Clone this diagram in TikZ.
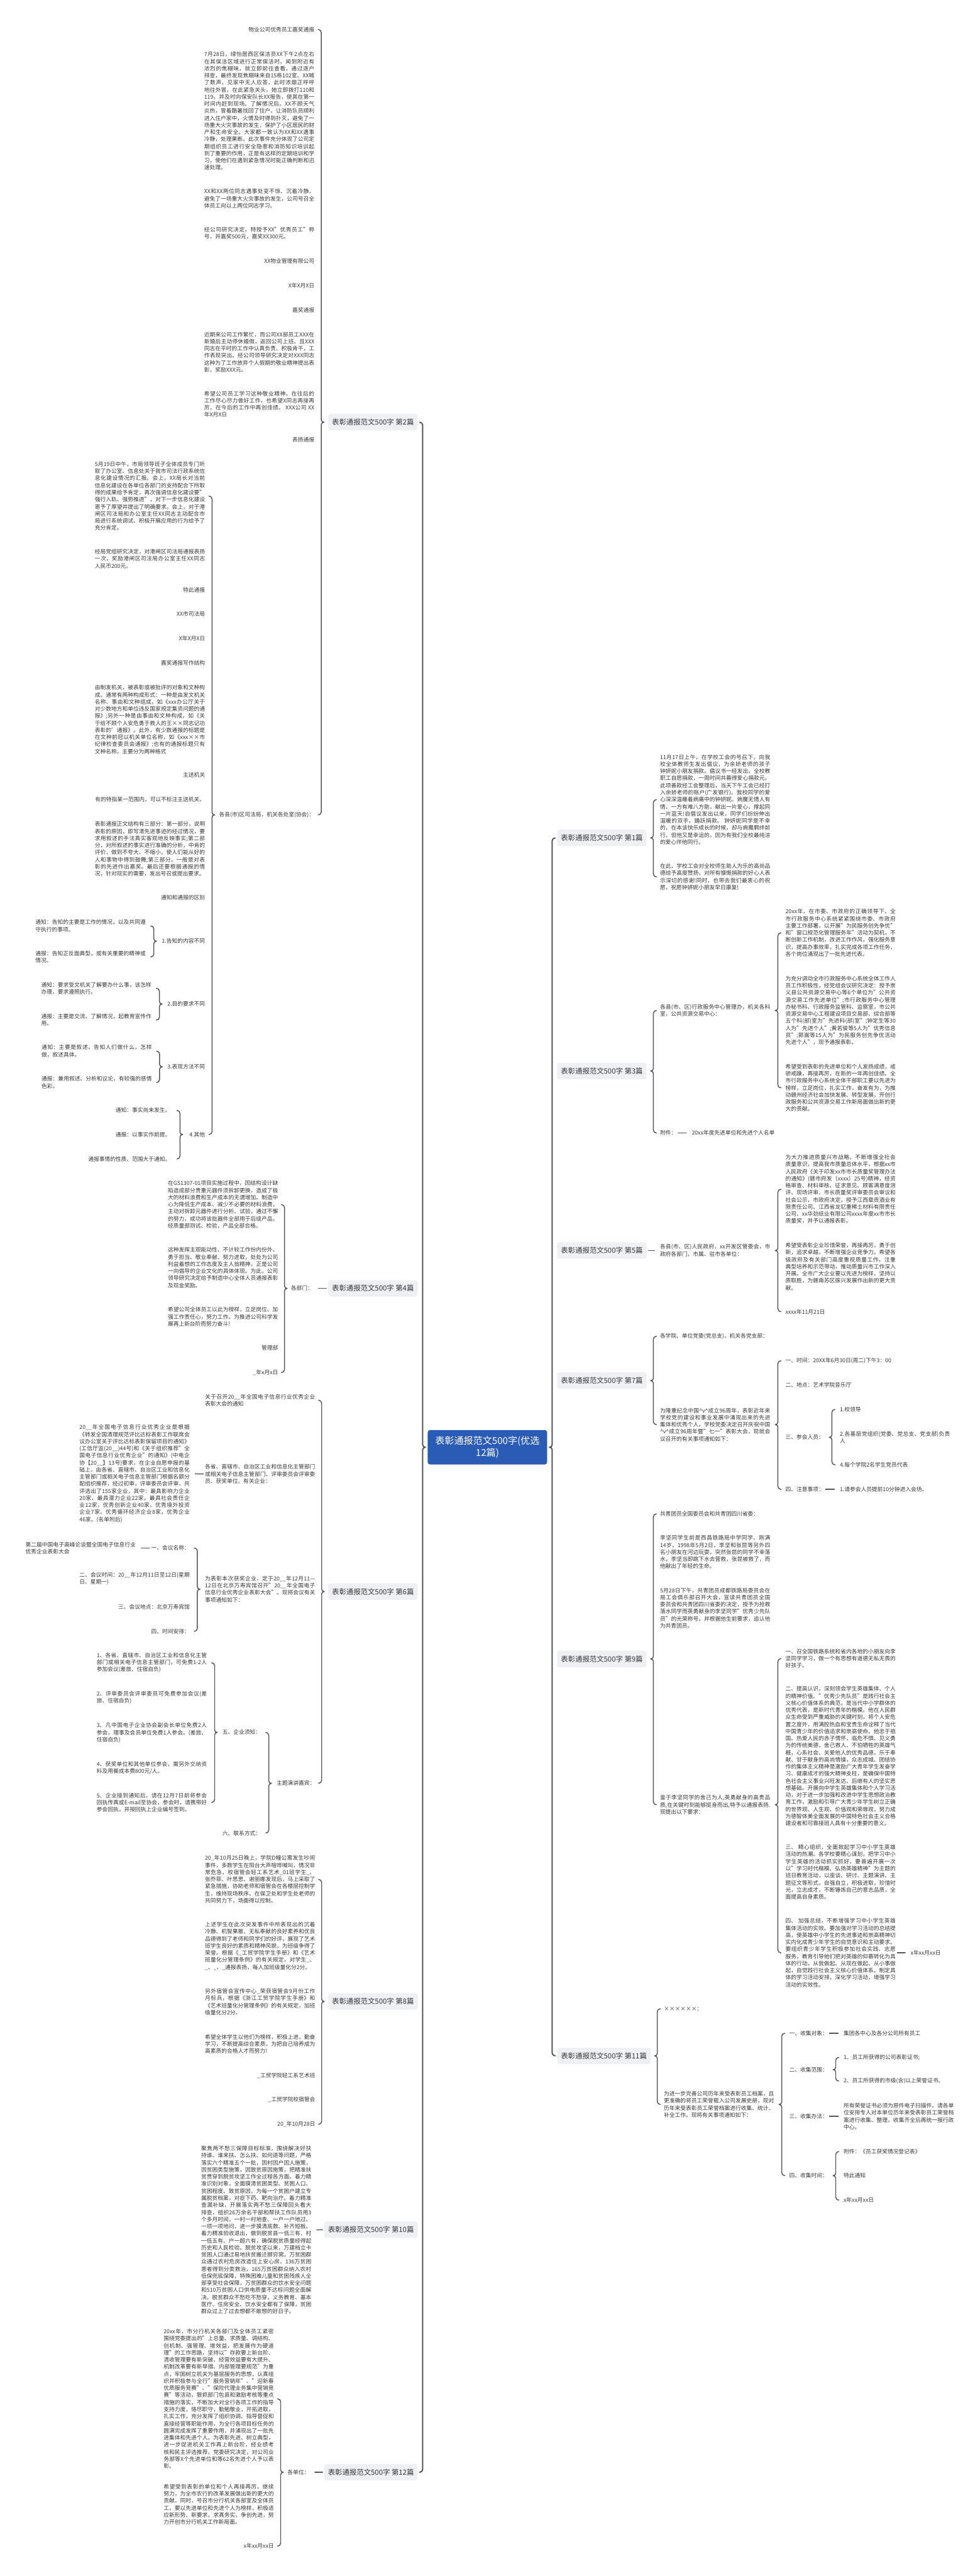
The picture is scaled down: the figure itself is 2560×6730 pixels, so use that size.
\documentclass[tikz,border=0pt]{standalone}
\usepackage{fontspec}
\setmainfont{Noto Sans CJK SC}
\usetikzlibrary{calc}
\XeTeXlinebreaklocale "zh"
\XeTeXlinebreakskip=0pt plus 1pt
\tolerance=9999
\emergencystretch=2em

\definecolor{ink}{HTML}{363636}
\definecolor{linkc}{HTML}{555555}
\definecolor{labbg}{HTML}{EEF0F4}
\definecolor{rootbg}{HTML}{2B5CB5}

\newcommand\mmtext{\fontsize{14.35}{18.5}\selectfont}
\newcommand\mmlabel{\fontsize{18.7}{22}\selectfont}
\newcommand\mmroot{\fontsize{24.8}{31}\selectfont}

\tikzset{
  txt/.style={font=\mmtext, text=ink, inner sep=0pt},
  blk/.style={txt, text width=288pt, align=justify},
  txl/.style={txt, anchor=east},
  txr/.style={txt, anchor=west},
  bkl/.style={blk, anchor=east},
  bkr/.style={blk, anchor=west},
  lab/.style={font=\mmlabel, text=ink, fill=labbg, rounded corners=6pt, inner xsep=10pt, inner ysep=0pt, minimum height=43pt},
  rootn/.style={font=\mmroot, text=white, fill=rootbg, rounded corners=6pt, align=center, minimum width=312pt, minimum height=90pt, inner sep=0pt},
  link/.style={draw=linkc, line width=2.4pt, line cap=round, line join=round},
  trunk/.style={line width=3.2pt},
  one/.style={link, shorten <=4pt, shorten >=14pt}
}

% brace from a parent to its first and last child
\newcommand\bracetoright[4][]{%
  \coordinate (bm) at ($(#2.east)!.5!(#3.west)$);
  \draw[link,#1] ($(bm |- #3.west)+(8,0)$) to[out=180,in=90] ($(bm |- #3.west)+(0,8)$)
    -- ($(bm |- #2.east)+(0,-6)$) to[out=-90,in=0] ($(bm |- #2.east)+(-7,0)$)
    to[out=0,in=90] ($(bm |- #2.east)+(0,6)$)
    -- ($(bm |- #4.west)+(0,-8)$) to[out=-90,in=180] ($(bm |- #4.west)+(8,0)$);}
\newcommand\bracetoleft[4][]{%
  \coordinate (bm) at ($(#2.west)!.5!(#3.east)$);
  \draw[link,#1] ($(bm |- #3.east)+(-8,0)$) to[out=0,in=90] ($(bm |- #3.east)+(0,8)$)
    -- ($(bm |- #2.west)+(0,-6)$) to[out=-90,in=180] ($(bm |- #2.west)+(7,0)$)
    to[out=180,in=90] ($(bm |- #2.west)+(0,6)$)
    -- ($(bm |- #4.east)+(0,-8)$) to[out=-90,in=0] ($(bm |- #4.east)+(-8,0)$);}

\begin{document}
\begin{tikzpicture}[x=1pt,y=-1pt]
\fill[white] (0,0) rectangle (2560,6730);
\useasboundingbox (0,0) rectangle (2560,6730);

\node[rootn] (root) at (1274,3781) {表彰通报范文500字(优选\\12篇)};

\node[lab, anchor=east] (b2) at (1092,1103) {表彰通报范文500字 第2篇};
\node[lab, anchor=east] (b4) at (1092,3366) {表彰通报范文500字 第4篇};
\node[lab, anchor=east] (b6) at (1092,4158) {表彰通报范文500字 第6篇};
\node[lab, anchor=east] (b8) at (1092,5229) {表彰通报范文500字 第8篇};
\node[lab, anchor=east] (b10) at (1092,5825) {表彰通报范文500字 第10篇};
\node[lab, anchor=east] (b12) at (1092,6459) {表彰通报范文500字 第12篇};
\node[lab, anchor=west] (b1) at (1456,2189) {表彰通报范文500字 第1篇};
\node[lab, anchor=west] (b3) at (1456,2798) {表彰通报范文500字 第3篇};
\node[lab, anchor=west] (b5) at (1456,3267) {表彰通报范文500字 第5篇};
\node[lab, anchor=west] (b7) at (1456,3607) {表彰通报范文500字 第7篇};
\node[lab, anchor=west] (b9) at (1456,4334) {表彰通报范文500字 第9篇};
\node[lab, anchor=west] (b11) at (1456,5371) {表彰通报范文500字 第11篇};

\bracetoleft[trunk]{root}{b2}{b12}
\bracetoright[trunk]{root}{b1}{b11}

% 第2篇
\node[txl] (a1) at (822,77) {物业公司优秀员工嘉奖通报};
\node[bkl] (a2) at (822,290) {7月28日，绿怡居西区保洁员XX下午2点左右在其保洁区域进行正常保洁时，闻到附近有浓烈的焦糊味，就立即前往查看，通过逐户排查，最终发现焦糊味来自15栋102室。XX喊了数声，见家中无人应答，此时浓烟正呼呼地往外冒，在此紧急关头，她立即拨打110和119，并及时向保安队长XX报告，使其在第一时间内赶到现场。了解情况后，XX不顾天气炎热，冒着酷暑找回了住户，让消防队员顺利进入住户家中，火情及时得到扑灭，避免了一场重大火灾事故的发生，保护了小区居民的财产和生命安全。大家都一致认为XX和XX遇事冷静，处理果断。此次事件充分体现了公司定期组织员工进行安全隐患和消防知识培训起到了重要的作用，正是有这样的定期培训和学习，使他们在遇到紧急情况时能正确判断和迅速处理。};
\node[bkl] (a3) at (822,519) {XX和XX两位同志遇事处变不惊、沉着冷静，避免了一场重大火灾事故的发生，公司号召全体员工向以上两位同志学习。};
\node[bkl] (a4) at (822,609) {经公司研究决定，特授予XX"优秀员工"称号，并嘉奖500元，嘉奖XX300元。};
\node[txl] (a5) at (822,682) {XX物业管理有限公司};
\node[txl] (a6) at (822,746) {X年X月X日};
\node[txl] (a7) at (822,810) {嘉奖通报};
\node[bkl] (a8) at (822,920) {近期来公司工作繁忙，而公司XX部员工XXX在新婚后主动停休婚假，返回公司上班。且XXX同志在平时的工作中认真负责、积极肯干，工作表现突出。经公司领导研究决定对XXX同志这种为了工作放弃个人假期的敬业精神提出表彰，奖励XXX元。};
\node[bkl] (a9) at (822,1056) {希望公司员工学习这种敬业精神，在往后的工作尽心尽力做好工作，也希望X同志再接再厉，在今后的工作中再创佳绩。 XXX公司 XX年X月X日};
\node[txl] (a10) at (822,1148) {表扬通报};
\node[txl] (a11) at (822,2129) {各县(市)区司法局，机关各处室(协会)：};
\bracetoleft{b2}{a1}{a11}

\node[bkl] (c1) at (536,1296) {5月19日中午，市局领导班子全体成员专门听取了办公室、信息处关于我市司法行政系统信息化建设情况的汇报。会上，XX局长对当前信息化建设在各单位各部门的支持配合下所取得的成果给予肯定，再次强调信息化建设要"强行入轨、强势推进"，对下一步信息化建设寄予了厚望并提出了明确要求。会上，对于港闸区司法局和办公室主任XX同志主动配合市局进行系统调试、积极开展应用的行为给予了充分肯定。};
\node[bkl] (c2) at (536,1460) {经局党组研究决定，对港闸区司法局通报表扬一次，奖励港闸区司法局办公室主任XX同志人民币200元。};
\node[txl] (c3) at (536,1541) {特此通报};
\node[txl] (c4) at (536,1604) {XX市司法局};
\node[txl] (c5) at (536,1668) {X年X月X日};
\node[txl] (c6) at (536,1732) {嘉奖通报写作结构};
\node[bkl] (c7) at (536,1880) {由制发机关，被表彰或被批评的对象和文种构成。通常有两种构成形式：一种是由发文机关名称、事由和文种组成，如《xxx办公厅关于对少数地方和单位违反国家规定集资问题的通报》;另外一种是由事由和文种构成，如《关于给不顾个人安危勇于救人的王××同志记功表彰的'通报》。此外，有少数通报的标题是在文种前冠以机关单位名称，如《xxx××市纪律检查委员会通报》;也有的通报标题只有文种名称。主要分为两种格式};
\node[txl] (c8) at (536,2025) {主送机关};
\node[txl] (c9) at (536,2089) {有的特指某一范围内，可以不标注主送机关。};
\node[bkl] (c10) at (536,2218) {表彰通报正文结构有三部分：第一部分，说明表彰的原因，即写清先进事迹的经过情况，要求用叙述的手法真实客观地反映事实;第二部分，对所叙述的事实进行准确的分析，中肯的评价，做到不夸大、不缩小，使人们能从好的人和事物中得到鼓舞;第三部分，一般是对表彰的先进作出嘉奖。最后还要根据通报的情况，针对现实的需要，发出号召或提出要求。};
\node[txl] (c11) at (536,2345) {通知和通报的区别};
\node[txl] (c12) at (536,2459) {1.告知的内容不同};
\node[txl] (c13) at (536,2623) {2.目的要求不同};
\node[txl] (c14) at (536,2787) {3.表现方法不同};
\node[txl] (c15) at (536,2964) {4.其他};
\bracetoleft{a11}{c1}{c15}

\node[bkl] (d1) at (381,2419) {通知：告知的主要是工作的情况，以及共同遵守执行的事项。};
\node[bkl] (d2) at (381,2500) {通报：告知正反面典型，或有关重要的精神或情况。};
\node[bkl] (d3) at (396,2582) {通知：要求受文机关了解要办什么事，该怎样办理，要求遵照执行。};
\node[bkl] (d4) at (396,2665) {通报：主要是交流、了解情况，起教育宣传作用。};
\node[bkl] (d5) at (397,2746) {通知：主要是叙述，告知人们做什么，怎样做，叙述具体。};
\node[bkl] (d6) at (397,2828) {通报：兼用叙述、分析和议论，有较强的感情色彩。};
\node[txl] (d7) at (446,2901) {通知：事实尚未发生。};
\node[txl] (d8) at (446,2964) {通报：以事实作前提。};
\node[txl] (d9) at (446,3028) {通报事情的性质、范围大于通知。};
\bracetoleft{c12}{d1}{d2}
\bracetoleft{c13}{d3}{d4}
\bracetoleft{c14}{d5}{d6}
\bracetoleft{c15}{d7}{d9}

% 第4篇
\node[txl] (e0) at (818,3366) {各部门：};
\draw[one] (b4.west) -- (e0.east);
\node[bkl] (e1) at (727,3147) {在GS1307-01项目实施过程中，因结构设计缺陷造成部分贵重元器件须拆卸更换，造成了极大的材料浪费和生产成本的无谓增加。制造中心为降低生产成本、减少不必要的材料浪费，主动对拆卸元器件进行分析、试验，通过不懈的努力，成功将该批器件全部用于后续产品，经质量部测试、检验，产品全部合格。};
\node[bkl] (e2) at (727,3312) {这种发挥主观能动性、不计较工作份内份外、勇于担当、敬业奉献、努力进取，处处为公司利益着想的工作态度及主人翁精神，正是公司一向倡导的企业文化的具体体现。为此，公司领导研究决定给予制造中心全体人员通报表彰及现金奖励。};
\node[bkl] (e3) at (727,3440) {希望公司全体员工以此为榜样，立足岗位、加强工作责任心，努力工作。为推进公司科学发展再上新台阶而努力奋斗!};
\node[txl] (e4) at (727,3521) {管理部};
\node[txl] (e5) at (727,3586) {\_年x月x日};
\bracetoleft{e0}{e1}{e5}

% 第6篇
\node[bkl] (f1) at (824,3658) {关于召开20\_\_年全国电子信息行业优秀企业表彰大会的通知};
\node[bkl] (f2) at (824,3851) {各省、直辖市、自治区工业和信息化主管部门或相关电子信息主管部门、评审委员会评审委员、获奖单位、有关企业：};
\node[bkl] (f2a) at (496,3850) {20\_\_年全国电子信息行业优秀企业是根据《转发全国清理规范评比达标表彰工作联席会议办公室关于评比达标表彰保留项目的通知》(工信厅监(20\_\_)44号)和《关于组织推荐"全国电子信息行业优秀企业"的通知》(中电企协【20\_\_】13号)要求，在企业自愿申报的基础上，由各省、直辖市、自治区工业和信息化主管部门或相关电子信息主管部门根据名额分配组织推荐，经过初审，评审委员会评审，共评选出了155家企业，其中：最具影响力企业20家，最具潜力企业22家，最具社会责任企业12家，优秀创新企业40家，优秀境外投资企业7家，优秀循环经济企业8家，优秀企业46家。(名单附后)};
\draw[one] (f2.west) -- (f2a.east);
\node[bkl] (f3) at (824,4152) {为表彰本次获奖企业，定于20\_\_年12月11—12日在北京万寿宾馆召开"20\_\_年全国电子信息行业优秀企业表彰大会"。现将会议有关事项通知如下：};
\node[txl] (f4) at (824,4659) {主题演讲嘉宾：};
\bracetoleft{b6}{f1}{f4}

\node[txl] (g1) at (496,4044) {一、会议名称：};
\node[bkl] (g1a) at (355,4044) {第二届中国电子高峰论谈暨全国电子信息行业优秀企业表彰大会};
\draw[one] (g1.west) -- (g1a.east);
\node[bkl] (g2) at (496,4124) {二、会议时间：20\_\_年12月11日至12日(星期日、星期一)};
\node[txl] (g3) at (496,4198) {三、会议地点：北京万寿宾馆};
\node[txl] (g4) at (496,4262) {四、时间安排：};
\bracetoleft{f3}{g1}{g4}

\node[txl] (h1) at (682,4526) {五、企业须知：};
\node[txl] (h2) at (682,4789) {六、联系方式：};
\bracetoleft{f4}{h1}{h2}
\node[bkl] (i1) at (541,4344) {1、各省、直辖市、自治区工业和信息化主管部门或相关电子信息主管部门，可免费1-2人参加会议(差旅、住宿自负)};
\node[bkl] (i2) at (541,4435) {2、评审委员会评审委员可免费参加会议(差旅、住宿自负)};
\node[bkl] (i3) at (541,4527) {3、凡中国电子企业协会副会长单位免费2人参会，理事及会员单位免费1人参会。(差旅、住宿自负)};
\node[bkl] (i4) at (541,4619) {4、获奖单位和其他单位参会，需另外交纳资料及用餐成本费800元/人。};
\node[bkl] (i5) at (541,4709) {5、企业接到通知后，请在12月7日前将参会回执传真或E-mail至协会，参会时，请携带好参会回执，并按回执上企业编号签到。};
\bracetoleft{h1}{i1}{i5}

% 第8篇
\node[bkl] (j1) at (824,4910) {20\_年10月25日晚上，学院D幢公寓发生吵闹事件，多数学生在阳台大声喧哗喊叫，情况非常危急，校宿管会轻工系艺术\_01班学生\_、张乔菲、叶思思、谢丽娜发现后，马上采取了紧急措施，协助老师和宿管会在各楼层控制学生，维持现场秩序。在保卫处和学生处老师的共同努力下，场面得以控制。};
\node[bkl] (j2) at (824,5084) {上述学生在此次突发事件中所表现出的沉着冷静、机智果敢、无私奉献的良好素养和优良品德得到了老师和同学们的好评，展现了艺术班学生良好的素质和精神风貌，为班级争得了荣誉。根据《\_工贸学院学生手册》和《艺术班量化分管理条例》的有关规定，对学生\_、\_、\_、\_通报表扬，每人加班级量化分2分。};
\node[bkl] (j3) at (824,5230) {另外宿管会宣传中心\_荣获宿管会9月份工作月标兵，根据《浙江工贸学院学生手册》和《艺术班量化分管理条例》的有关规定，加班级量化分2分。};
\node[bkl] (j4) at (824,5340) {希望全体学生以他们为榜样，积极上进，勤奋学习，不断提高综合素质，为把自己培养成为高素质的合格人才而努力!};
\node[txl] (j5) at (824,5422) {\_工贸学院轻工系艺术班};
\node[txl] (j6) at (824,5485) {\_工贸学院校宿管会};
\node[txl] (j7) at (824,5550) {20\_年10月28日};
\bracetoleft{b8}{j1}{j7}

% 第10篇
\node[bkl] (k10) at (814,5826) {聚焦两不愁三保障目标标准，围绕解决好扶持谁、谁来扶、怎么扶、如何退等问题，严格落实六个精准五个一批，因村因户因人施策，因贫困类型施策，因致贫原因施策，把精准扶贫贯穿到脱贫攻坚工作全过程各方面。着力精准识别对象，全面摸清贫困类型、贫困人口、贫困程度、致贫原因，为每一个贫困户建立专属脱贫档案，对症下药、靶向治疗。着力精准查漏补缺，开展落实两不愁三保障回头看大排查，组织26万余名干部和帮扶工作队员用3个多月时间，一村一村地查、一户一户地过、一项一项地问，进一步摸清底数、补齐短板。着力精准验收退出，做到脱贫县一低三有、村一低五有、户一超六有，确保脱贫质量经得起历史和人民检验。脱贫攻坚以来，万建档立卡贫困人口通过易地扶贫搬迁挪穷窝，万贫困群众通过农村危房改造住上安心房，136万贫困患者得到分类救治，165万贫困群众纳入农村低保兜底保障，特殊困难儿童和贫困残疾人全部享受社会保障，万贫困群众的饮水安全问题和510万贫困人口供电质量不达标问题全面解决。脱贫群众不愁吃不愁穿，义务教育、基本医疗、住房安全、饮水安全都有了保障，贫困群众过上了过去想都不敢想的好日子。};
\draw[one] (b10.west) -- (k10.east);

% 第12篇
\node[txl] (m0) at (809,6459) {各单位：};
\draw[one] (b12.west) -- (m0.east);
\node[bkl] (m1) at (716,6267) {20xx年，市分行机关各部门及全体员工紧密围绕党委提出的"上总量、求质量、调结构、创机制、强管理、增效益，把发展作为硬道理"的工作思路，坚持以"存款要上新台阶、清收管理要有新突破、经营效益要有大提升、机制改革要有新举措、内部管理要规范"为重点，牢固树立机关为基层服务的思想，认真组织并积极参与全行"服务营销年"、"迎新春优质服务竞赛"、"保险代理业务集中营销竞赛"等活动，狠抓部门包县和激励考核等重点措施的落实，不断加大对全行各项工作的指导支持力度，恪尽职守，勤勉敬业，开拓进取，扎实工作，充分发挥了组织协调、指导督促和直接经营等职能作用，为全行各项目标任务的圆满完成发挥了重要作用，并涌现出了一批先进集体和先进个人。为表彰先进、树立典型，进一步促进机关工作再上新台阶，经业绩考核和民主评选推荐，党委研究决定，对公司业务部等X个先进单位和等62名先进个人予以表彰。};
\node[bkl] (m2) at (716,6543) {希望受到表彰的单位和个人再接再厉，继续努力，为全市农行的改革发展做出新的更大的贡献。同时，号召市分行机关各部室及全体员工，要以先进单位和先进个人为榜样，积极适应新形势、新要求，求真务实，争创先进，努力开创市分行机关工作新局面。};
\node[txl] (m3) at (716,6652) {x年xx月xx日};
\bracetoleft{m0}{m1}{m3}

% 第1篇
\node[bkr] (p1) at (1725,2089) {11月17日上午，在学校工会的号召下，向我校全体教师生发出倡议，为余娇老师的孩子钟妍妮小朋友捐款。倡议书一经发出，全校教职工自愿捐款，一周时间共募得爱心捐款元。此项善款经工会整理后，当天下午工会已经打入余娇老师的账户(广发银行)。我校同学的爱心深深温暖着病痛中的钟妍妮。病魔无情人有情，一方有难八方助，献出一片爱心，撑起同一片蓝天!自倡议发出以来，同学们纷纷伸出温暖的双手，踊跃捐款。 钟妍妮同学是不幸的，在本该快乐成长的时候，却与病魔羁绊前行。但他又是幸运的，因为有我们全校最纯洁的爱心伴他同行。};
\node[bkr] (p2) at (1725,2291) {在此，学校工会对全校师生助人为乐的高尚品德给予高度赞扬，对所有慷慨捐款的好心人表示深切的感谢!同时，也带去我们最衷心的祝愿，祝愿钟妍妮小朋友早日康复!};
\bracetoright{b1}{p1}{p2}

% 第3篇
\node[bkr] (q1) at (1725,2640) {各县(市、区)行政服务中心管理办，机关各科室，公共资源交易中心：};
\node[txr] (q2) at (1725,2960) {附件：};
\node[txr] (q2a) at (1808,2960) {20xx年度先进单位和先进个人名单};
\draw[one] (q2.east) -- (q2a.west);
\bracetoright{b3}{q1}{q2}
\node[bkr] (q1a) at (2053,2437) {20xx年，在市委、市政府的正确领导下，全市行政服务中心系统紧紧围绕市委、市政府主要工作部署，以开展"为民服务创先争优"和"窗口规范化管理服务年"活动为契机，不断创新工作机制，改进工作作风，强化服务意识，提高办事效率，扎实完成各项工作任务，各个岗位涌现出了一批先进代表。};
\node[bkr] (q1b) at (2053,2640) {为充分调动全市行政服务中心系统全体工作人员工作积极性，经党组会议研究决定：授予崇义县公共资源交易中心等6个单位为"公共资源交易工作先进单位";市行政服务中心管理办秘书科、行政服务监管科、监察室，市公共资源交易中心工程建设项目交易部、综合部等五个科(部)室为"先进科(部)室";钟定生等30人为"先进个人";黄若骏等5人为"优秀信息员";郭嵩等15人为"为民服务创先争优活动先进个人"，现予通报表彰。};
\node[bkr] (q1c) at (2053,2842) {希望受到表彰的先进单位和个人发扬成绩，戒骄戒躁，再接再厉，在新的一年再创佳绩。全市行政服务中心系统全体干部职工要以先进为榜样，立足岗位，扎实工作，奋发有为，为推动赣州经济社会加快发展、转型发展，开创行政服务和公共资源交易工作新局面做出新的更大的贡献。};
\bracetoright{q1}{q1a}{q1c}

% 第5篇
\node[bkr] (r0) at (1725,3267) {各县(市、区)人民政府，xx开发区管委会，市政府各部门，市属、驻市各单位：};
\draw[one] (b5.east) -- (r0.west);
\node[bkr] (r1) at (2053,3107) {为大力推进质量兴市战略，不断增强全社会质量意识，提高我市质量总体水平，根据xx市人民政府《关于印发xx市市长质量奖管理办法的通知》(赣市府发〔xxxx〕25号)精神，经资格审查、材料审核、征求意见、顾客满意度测评、现场评审、市长质量奖评审委员会审议和社会公示，市政府决定，授予江西章贡酒业有限责任公司、江西省龙钇重稀土材料有限责任公司、xx华劲纸业有限公司xxxx年度xx市市长质量奖，并予以通报表彰。};
\node[bkr] (r2) at (2053,3309) {希望受表彰企业珍惜荣誉，再接再厉，勇于创新，追求卓越，不断增强企业竞争力。希望各级政府及有关部门高度重视质量工作，注重典型培养和示范带动，推动质量兴市工作深入开展。全市广大企业要以先进为榜样，坚持以质取胜，为赣南苏区振兴发展作出新的更大贡献。};
\node[txr] (r3) at (2053,3427) {xxxx年11月21日};
\bracetoright{r0}{r1}{r3}

% 第7篇
\node[txr] (s1) at (1725,3491) {各学院、单位党委(党总支)，机关各党支部：};
\node[bkr] (s2) at (1725,3722) {为隆重纪念中国\textasciicircum{}v\textasciicircum{}成立96周年，表彰近年来学校党的建设和事业发展中涌现出来的先进集体和优秀个人，学校党委决定召开庆祝中国\textasciicircum{}v\textasciicircum{}成立96周年暨"七一"表彰大会，现就会议召开的有关事项通知如下：};
\bracetoright{b7}{s1}{s2}
\node[txr] (t1) at (2053,3555) {一、时间：20XX年6月30日(周二)下午3：00};
\node[txr] (t2) at (2053,3619) {二、地点：艺术学院音乐厅};
\node[txr] (t3) at (2053,3755) {三、参会人员：};
\node[txr] (t4) at (2053,3891) {四、注意事项：};
\bracetoright{s2}{t1}{t4}
\node[txr] (u1) at (2195,3682) {1.校领导};
\node[bkr] (u2) at (2195,3755) {2.各基层党组织(党委、党总支、党支部)负责人};
\node[txr] (u3) at (2195,3827) {4.每个学院2名学生党员代表};
\bracetoright{t3}{u1}{u3}
\node[txr] (u4) at (2195,3891) {1.请参会人员提前10分钟进入会场。};
\draw[one] (t4.east) -- (u4.west);

% 第9篇
\node[txr] (v1) at (1725,3955) {共青团员全国委员会和共青团四川省委：};
\node[bkr] (v2) at (1725,4055) {李坚同学生前是西昌铁路局中学同学，刚满14岁，1998年5月2日，李坚和张昆等另外四名小朋友在河边玩耍，突然张昆的同学不幸落水，李坚当即跳下水去营救，张昆被救了，而他献出了年轻的生命。};
\node[bkr] (v3) at (1725,4201) {5月28日下午，共青团员成都铁路局委员会在局工会俱乐部召开大会，宣读共青团员全国委员会和共青团四川省委的决定，授予为抢救落水同学而英勇献身的李坚同学"优秀少先队员"的光荣称号，并根据他生前要求，追认他为共青团员。};
\node[bkr] (v4) at (1725,4715) {鉴于李坚同学的舍己为人,英勇献身的高贵品质,在关键时刻能够挺身而出,特予以通报表扬.现提出以下要求：};
\bracetoright{b9}{v1}{v4}
\node[bkr] (w1) at (2053,4333) {一、召全国铁路系统和省内各地的小朋友向李坚同学学习，做一个有思想有道德无私无畏的好孩子。};
\node[bkr] (w2) at (2053,4588) {二、提高认识，深刻领会学生英雄集体、个人的精神价值。"优秀少先队员"是践行社会主义核心价值体系的典范，是当代中小学群体的优秀代表，是新时代青年的楷模。他在人民群众生命受到严重威胁的关键时刻，将个人安危置之度外，用满腔热血和宝贵生命诠释了当代中国青少年的价值追求和崇高使命。他忠于祖国、热爱人民的赤子情怀，临危不惧、见义勇为的传统美德，舍己救人、不怕牺牲的英雄气概，心系社会、关爱他人的优秀品德，乐于奉献、甘于献身的高尚情操，众志成城、团结协作的集体主义精神是激励广大青年学生发奋学习、健康成才的强大精神支柱，是确保中国特色社会主义事业兴旺发达、后继有人的坚实思想基础。开展向中学生英雄集体和个人学习活动，对于进一步加强和改进中学生思想政治教育工作，激励和引导广大青少年学生树立正确的世界观、人生观、价值观和荣辱观，努力成为德智体美全面发展的中国特色社会主义合格建设者和可靠接班人具有十分重要的意义。};
\node[bkr] (w3) at (2053,4891) {三、 精心组织，全面掀起学习中小学生英雄活动的热潮。各学校要精心谋划，把学习中小学生英雄的活动抓实抓好，要普遍开展一次以"学习时代楷模、弘扬英雄精神"为主题的班日教育活动，以座谈、研讨、主题演讲、主题征文等形式，自强自立，积极进取，珍惜时光，立志成才，不断锤炼自己的意志品质，全面提高自身素质。};
\node[bkr] (w4) at (2053,5102) {四、 加强总结，不断增强学习中小学生英雄集体活动的实效。要加强对学习活动的总结提高，使英雄中小学生的先进事迹和崇高精神切实内化成青少年学生的自觉意识和主动要求。要组织青少年学生积极参加社会实践、志愿服务，教育引导他们把对英雄的仰慕转化为具体的行动，从我做起、从现在做起、从小事做起，自觉践行社会主义核心价值体系。制定具体的学习活动安排，深化学习活动，增强学习活动的实效性。};
\bracetoright{v4}{w1}{w4}
\node[txr] (w4a) at (2380,5102) {x年xx月xx日};
\draw[one] (w4.east) -- (w4a.west);

% 第11篇
\node[txr] (x1) at (1735,5248) {××××××：};
\node[bkr] (x2) at (1735,5498) {为进一步完善公司历年来受表彰员工档案，且更准确的将员工荣誉载入公司发展史册，现对历年来受表彰员工荣誉档案进行收集、统计、补全工作。现将有关事项通知如下：};
\bracetoright{b11}{x1}{x2}
\node[txr] (y1) at (2063,5312) {一、收集对象：};
\node[txr] (y2) at (2063,5407) {二、收集范围：};
\node[txr] (y3) at (2063,5529) {三、收集办法：};
\node[txr] (y4) at (2063,5684) {四、收集时间：};
\bracetoright{x2}{y1}{y4}
\node[txr] (y1a) at (2205,5312) {集团各中心及各分公司所有员工};
\draw[one] (y1.east) -- (y1a.west);
\node[txr] (z1) at (2205,5375) {1、员工所获得的公司表彰证书;};
\node[txr] (z2) at (2205,5437) {2、员工所获得的市级(含)以上荣誉证书。};
\bracetoright{y2}{z1}{z2}
\node[bkr] (y3a) at (2205,5529) {所有荣誉证书必须为原件电子扫描件。请各单位安排专人对本单位历年来受表彰员工荣誉档案进行收集、整理，收集齐全后再统一报行政中心。};
\draw[one] (y3.east) -- (y3a.west);
\node[txr] (z3) at (2205,5621) {附件：《员工获奖情况登记表》};
\node[txr] (z4) at (2205,5684) {特此通知};
\node[txr] (z5) at (2205,5748) {x年xx月xx日};
\bracetoright{y4}{z3}{z5}
\end{tikzpicture}
\end{document}
